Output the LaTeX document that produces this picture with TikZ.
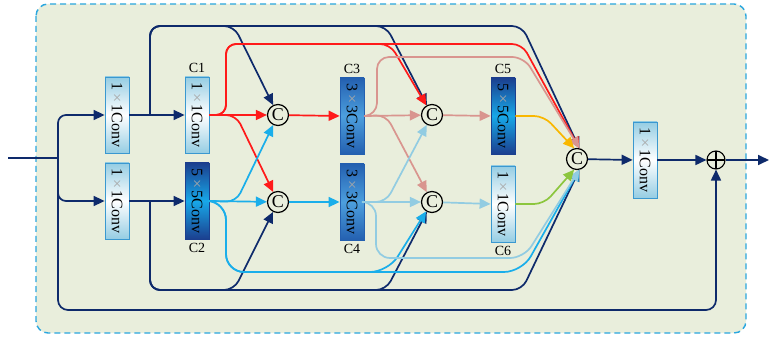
\documentclass[tikz,border=0pt]{standalone}
\usepackage{fontspec}
\setmainfont{Liberation Serif}
\usetikzlibrary{arrows.meta}
\definecolor{navy}{HTML}{0E2A6B}
\definecolor{redl}{HTML}{FF1A1A}
\definecolor{bluel}{HTML}{1AAEEA}
\definecolor{pinkl}{HTML}{D9958F}
\definecolor{skyl}{HTML}{92CCE2}
\definecolor{goldl}{HTML}{F9B700}
\definecolor{greenl}{HTML}{8CC63E}
\definecolor{bgc}{HTML}{E9EEDC}
\definecolor{dashc}{HTML}{2AA7DF}
\definecolor{edgec}{HTML}{3A98D0}
\definecolor{lb}{HTML}{95CDE3}
\definecolor{dk1}{HTML}{1B3F8F}
\definecolor{dk2}{HTML}{18A8E8}
\definecolor{md1}{HTML}{2460B0}
\definecolor{md2}{HTML}{4C9FDE}
\definecolor{timesc}{HTML}{A8A8A8}
\tikzset{
  convbox/.style={draw=edgec, line width=0.8pt, minimum width=24pt, minimum height=76pt, inner sep=0pt},
  lightbox/.style={convbox, top color=lb, bottom color=lb, middle color=white},
  darkbox/.style={convbox, draw=dk1, top color=dk1, bottom color=dk1, middle color=dk2},
  medbox/.style={convbox, draw=md1, top color=md1, bottom color=md1, middle color=md2},
  concat/.style={circle, draw=black, line width=1.2pt, minimum size=21pt, inner sep=0pt, font=\fontsize{18}{18}\selectfont},
  lab/.style={font=\fontsize{14}{14}\selectfont},
  arr/.style={-{Triangle[length=11pt,width=10pt]}},
  ln/.style={line width=1.7pt},
}
\newcommand{\cv}[2]{\rotatebox{-90}{\fontsize{16}{16}\selectfont #1\,{\color{timesc}×}\,#2}}
\begin{document}
\begin{tikzpicture}[x=1pt,y=-1pt]
\useasboundingbox (0,0) rectangle (769,342);
\fill[white] (0,0) rectangle (769,342);
\draw[dashc, line width=1.4pt, dash pattern=on 6pt off 4pt, fill=bgc, rounded corners=12pt] (36,4) rectangle (746,333);

% nodes
\coordinate (in) at (8,158);
\coordinate (j0) at (58,158);
\node[lightbox] (A1) at (117,115) {\cv{1}{1Conv}};
\node[lightbox] (A2) at (117,201) {\cv{1}{1Conv}};
\node[lightbox] (C1) at (197,115) {\cv{1}{1Conv}};
\node[darkbox] (C2) at (197,201) {\cv{5}{5Conv}};
\node[lab, above=0pt] at (C1.north) {C1};
\node[lab, below=0pt] at (C2.south) {C2};
\node[concat] (K1) at (278,115) {C};
\node[concat] (K2) at (278,202) {C};
\node[medbox] (C3) at (352,116) {\cv{3}{3Conv}};
\node[medbox] (C4) at (352,202) {\cv{3}{3Conv}};
\node[lab, above=0pt] at (C3.north) {C3};
\node[lab, below=0pt] at (C4.south) {C4};
\node[concat] (K3) at (432,115) {C};
\node[concat] (K4) at (432,202) {C};
\node[darkbox] (C5) at (503,116) {\cv{5}{5Conv}};
\node[lightbox] (C6) at (503,204) {\cv{1}{1Conv}};
\node[lab, above=0pt] at (C5.north) {C5};
\node[lab, below=0pt] at (C6.south) {C6};
\node[concat] (K5) at (577,159) {C};
\node[lightbox] (F) at (645,160) {\cv{1}{1Conv}};
\node[circle, draw=black, line width=1.1pt, minimum size=18pt, inner sep=0pt,
  path picture={\draw[line width=1.1pt] (path picture bounding box.north) -- (path picture bounding box.south) (path picture bounding box.west) -- (path picture bounding box.east);}] (P) at (716,160) {};
\coordinate (out) at (769,160);

% input
\draw[navy, ln] (in) -- (j0);
\draw[navy, ln, arr, rounded corners=8pt] (j0) |- (A1.west);
\draw[navy, ln, arr, rounded corners=8pt] (j0) |- (A2.west);
\draw[navy, ln, arr, rounded corners=10pt] (j0) -- (58,310) -- (716,310) -- (P.south);

% navy from A1
\draw[navy, ln, arr] (A1.east) -- (C1.west);
\draw[navy, ln, arr, rounded corners=10pt] (150,115) -- (150,26) -- (234,26) -- (K1);
\draw[navy, ln, arr, rounded corners=10pt] (150,115) -- (150,26) -- (386,26) -- (K3);
\draw[navy, ln, arr, rounded corners=10pt] (150,115) -- (150,26) -- (522,26) -- (K5.78);
% navy from A2
\draw[navy, ln, arr] (A2.east) -- (C2.west);
\draw[navy, ln, arr, rounded corners=10pt] (150,201) -- (150,290) -- (234,290) -- (K2);
\draw[navy, ln, arr, rounded corners=10pt] (150,201) -- (150,290) -- (386,290) -- (K4);
\draw[navy, ln, arr, rounded corners=10pt] (150,201) -- (150,290) -- (522,290) -- (K5.-78);

% red from C1
\draw[redl, ln, arr] (C1.east) -- (K1);
\draw[redl, ln, arr, rounded corners=10pt] (C1.east) -- (226,115) -- (226,44) -- (390,44) -- (K3);
\draw[redl, ln, arr, rounded corners=10pt] (C1.east) -- (226,115) -- (226,44) -- (522,44) -- (K5.78);
\draw[redl, ln, arr, rounded corners=10pt] (C1.east) -- (236,115) -- (K2);

% blue from C2
\draw[bluel, ln, arr] (C2.east) -- (K2);
\draw[bluel, ln, arr, rounded corners=10pt] (C2.east) -- (236,202) -- (K1);
\draw[bluel, ln, arr, rounded corners=18pt] (C2.east) -- (226,202) -- (226,272) -- (388,272) -- (K4);
\draw[bluel, ln, arr, rounded corners=18pt] (C2.east) -- (226,202) -- (226,272) -- (522,272) -- (K5.-78);

% middle stage
\draw[redl, ln, arr] (K1) -- (C3.west);
\draw[bluel, ln, arr] (K2) -- (C4.west);

% pink from C3
\draw[pinkl, ln, arr] (C3.east) -- (K3);
\draw[pinkl, ln, arr, rounded corners=12pt] (C3.east) -- (377,115) -- (377,57) -- (524,57) -- (K5.78);
\draw[pinkl, ln, arr, rounded corners=10pt] (C3.east) -- (386,115) -- (K4);

% sky from C4
\draw[skyl, ln, arr] (C4.east) -- (K4);
\draw[skyl, ln, arr, rounded corners=10pt] (C4.east) -- (386,202) -- (K3);
\draw[skyl, ln, arr, rounded corners=14pt] (C4.east) -- (376,202) -- (376,258) -- (524,258) -- (K5.-78);

% last stage
\draw[pinkl, ln, arr] (K3) -- (C5.west);
\draw[skyl, ln, arr] (K4) -- (C6.west);
\draw[goldl, ln, arr, rounded corners=10pt] (C5.east) -- (544,116) -- (K5.105);
\draw[greenl, ln, arr, rounded corners=10pt] (C6.east) -- (544,204) -- (K5.-105);

% output
\draw[navy, ln, arr] (K5) -- (F.west);
\draw[navy, ln, arr] (F.east) -- (P);
\draw[navy, ln, arr] (P) -- (out);
\end{tikzpicture}
\end{document}
